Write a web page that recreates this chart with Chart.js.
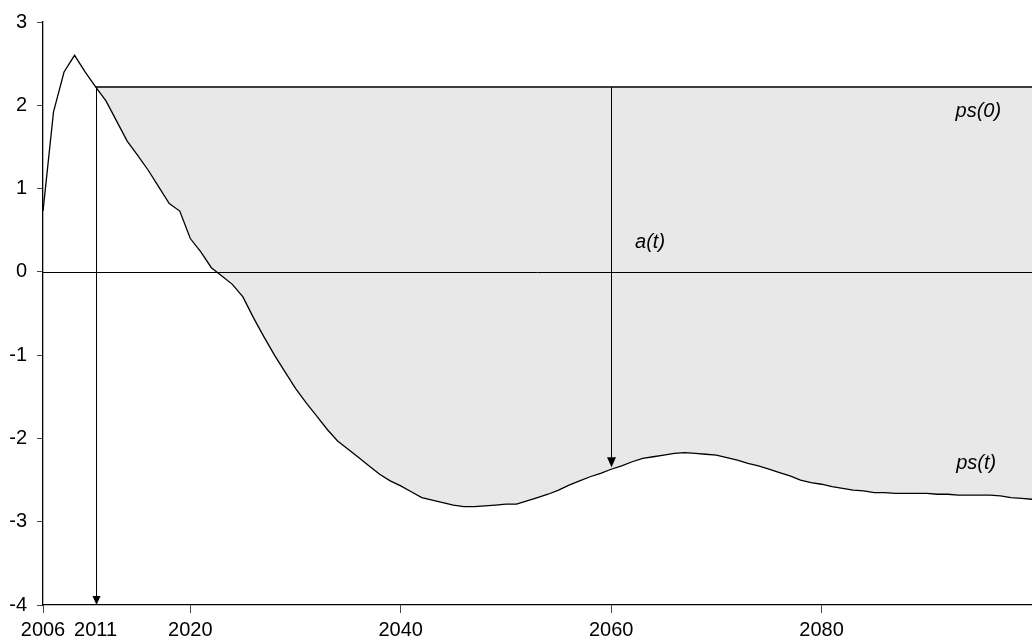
<!DOCTYPE html>
<html>
<head>
<meta charset="utf-8">
<script src="https://cdn.jsdelivr.net/npm/chart.js@4.4.1/dist/chart.umd.min.js"></script>
<style>
  html, body { margin: 0; padding: 0; background: #fff; }
  #wrap { width: 1032px; height: 641px; }
</style>
</head>
<body>
<div id="wrap"><canvas id="myChart"></canvas></div>
<script>
// ps(t), one value per year from 2006
var firstYear = 2006;
var psValues = [
  0.73, 1.92, 2.40, 2.60, 2.40, 2.22, 2.05, 1.81, 1.57, 1.40,
  1.22, 1.02, 0.82, 0.73, 0.40, 0.24, 0.05, -0.05, -0.15, -0.30,
  -0.55, -0.78, -1.00, -1.20, -1.40, -1.57, -1.73, -1.89, -2.03, -2.13,
  -2.23, -2.33, -2.43, -2.51, -2.57, -2.64, -2.71, -2.74, -2.77, -2.80,
  -2.82, -2.82, -2.81, -2.80, -2.79, -2.79, -2.75, -2.71, -2.67, -2.62,
  -2.56, -2.51, -2.46, -2.42, -2.37, -2.33, -2.28, -2.24, -2.22, -2.20,
  -2.18, -2.17, -2.18, -2.19, -2.20, -2.23, -2.26, -2.30, -2.33, -2.37,
  -2.41, -2.45, -2.50, -2.53, -2.55, -2.58, -2.60, -2.62, -2.63, -2.65,
  -2.65, -2.66, -2.66, -2.66, -2.66, -2.67, -2.67, -2.68, -2.68, -2.68,
  -2.68, -2.69, -2.71, -2.72, -2.73
];
var ps0Value = 2.22;
var startYear = 2011;
var arrowYear = 2060;
var xTickYears = [2006, 2011, 2020, 2040, 2060, 2080];
var yTickValues = [-4, -3, -2, -1, 0, 1, 2, 3];

document.addEventListener('DOMContentLoaded', function () {
  var ctx = document.getElementById('myChart').getContext('2d');
  var years = psValues.map((v, i) => firstYear + i);
  var lastYear = years[years.length - 1];

  var psPoints = years.map((y, i) => ({ x: y, y: psValues[i] }));
  var psFrom2011 = psPoints.filter(p => p.x >= startYear);
  var ps0Points = psFrom2011.map(p => ({ x: p.x, y: ps0Value }));
  var psAtArrow = psValues[years.indexOf(arrowYear)];

  var font = 'Liberation Sans, Arial, Helvetica, sans-serif';

  function arrowDown(c, x, y1, y2, w, h) {
    c.beginPath();
    c.moveTo(x, y1);
    c.lineTo(x, y2 - h);
    c.stroke();
    c.beginPath();
    c.moveTo(x - w / 2, y2 - h);
    c.lineTo(x + w / 2, y2 - h);
    c.lineTo(x, y2);
    c.closePath();
    c.fill();
  }

  var overlay = {
    id: 'overlay',
    afterDatasetsDraw: function (chart) {
      var c = chart.ctx;
      var xs = chart.scales.x, ys = chart.scales.y;
      var area = chart.chartArea;
      c.save();
      c.strokeStyle = '#000';
      c.fillStyle = '#000';
      c.lineWidth = 1;
      // zero line
      var y0 = Math.round(ys.getPixelForValue(0)) + 0.5;
      c.beginPath();
      c.moveTo(area.left, y0);
      c.lineTo(area.right, y0);
      c.stroke();
      // arrows
      var top = ys.getPixelForValue(ps0Value);
      var xa = Math.round(xs.getPixelForValue(startYear)) + 0.5;
      arrowDown(c, xa, top, ys.getPixelForValue(-4), 8, 9);
      var xb = Math.round(xs.getPixelForValue(arrowYear)) + 0.5;
      arrowDown(c, xb, top, ys.getPixelForValue(psAtArrow) - 2, 9, 10);
      // labels
      c.font = 'italic 20px ' + font;
      c.textAlign = 'center';
      c.textBaseline = 'middle';
      c.fillText('ps(0)', xs.getPixelForValue(2094.9), ys.getPixelForValue(1.93));
      c.fillText('a(t)', xs.getPixelForValue(2063.7), ys.getPixelForValue(0.35));
      c.fillText('ps(t)', xs.getPixelForValue(2094.7), ys.getPixelForValue(-2.30));
      c.restore();
    }
  };

  new Chart(ctx, {
    type: 'line',
    data: {
      datasets: [
        {
          label: 'area',
          data: psFrom2011,
          borderWidth: 0,
          pointRadius: 0,
          backgroundColor: '#e8e8e8',
          fill: 1,
          order: 3
        },
        {
          label: 'ps(0)',
          data: ps0Points,
          borderColor: '#000',
          borderWidth: 1.4,
          pointRadius: 0,
          fill: false,
          order: 2
        },
        {
          label: 'ps(t)',
          data: psPoints,
          borderColor: '#000',
          borderWidth: 1.3,
          pointRadius: 0,
          fill: false,
          order: 1
        }
      ]
    },
    options: {
      responsive: true,
      maintainAspectRatio: false,
      animation: false,
      events: [],
      layout: { padding: { top: 20, right: 0, left: 0, bottom: 0 } },
      plugins: {
        legend: { display: false },
        tooltip: { enabled: false }
      },
      scales: {
        x: {
          type: 'linear',
          min: firstYear,
          max: lastYear,
          afterBuildTicks: function (s) { s.ticks = xTickYears.map(v => ({ value: v })); },
          afterFit: function (s) { s.height = 36; },
          ticks: {
            autoSkip: false,
            maxRotation: 0,
            padding: 5,
            color: '#000',
            font: { family: font, size: 20 },
            callback: function (v) { return String(v); }
          },
          grid: {
            color: 'rgba(0,0,0,0)',
            tickColor: function (c) { return c.tick && c.tick.value === startYear ? 'rgba(0,0,0,0)' : '#444'; },
            tickLength: 8,
            drawOnChartArea: false
          },
          border: { color: '#000', width: 1.3 }
        },
        y: {
          min: -4,
          max: 3,
          afterBuildTicks: function (s) { s.ticks = yTickValues.map(v => ({ value: v })); },
          afterFit: function (s) { s.width = 43; },
          ticks: {
            padding: 10,
            color: '#000',
            font: { family: font, size: 20 }
          },
          grid: {
            color: 'rgba(0,0,0,0)',
            tickColor: '#444',
            tickLength: 6,
            drawOnChartArea: false
          },
          border: { color: '#000', width: 1.3 }
        }
      }
    },
    plugins: [overlay]
  });
});
</script>
</body>
</html>
